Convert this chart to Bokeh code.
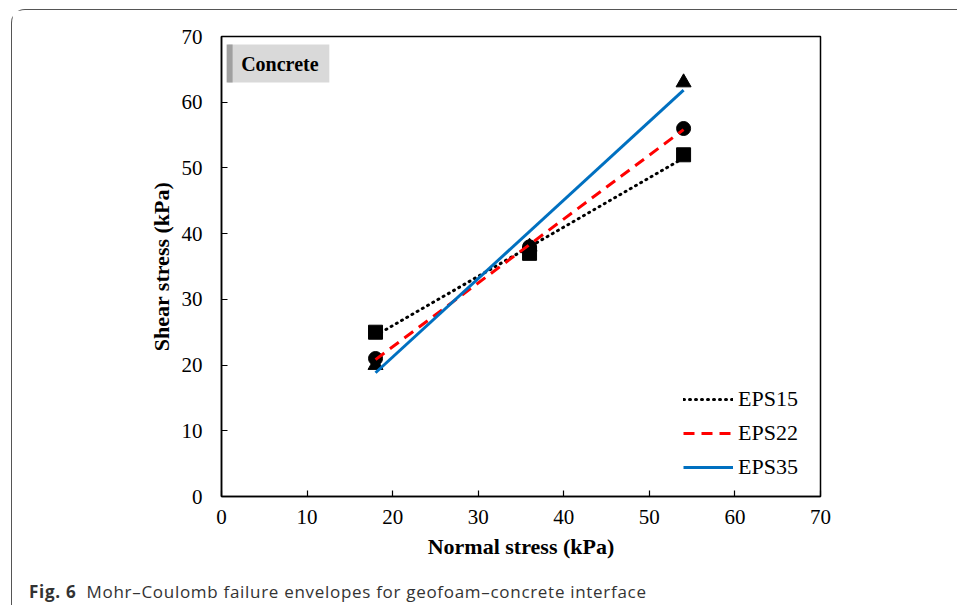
import numpy as np
from bokeh.plotting import figure
from bokeh.layouts import column
from bokeh.models import Range1d, FixedTicker, Legend, LegendItem, Label, BoxAnnotation, Div
from bokeh.embed import file_html
from bokeh.resources import INLINE

# Data
normal_stress = [18, 36, 54]
series_names = ["EPS15", "EPS22", "EPS35"]
eps15 = [25, 37, 52]
eps22 = [21, 38, 56]
eps35 = [20, 38, 63]
ticks = [0, 10, 20, 30, 40, 50, 60, 70]
caption_bold = "Fig. 6"
caption_text = "Mohr\u2013Coulomb failure envelopes for geofoam\u2013concrete interface"

# outer box starts at canvas (11, 9) with a 1px border -> figure at (12, 10)
FW, FH = 945, 565
p = figure(width=FW, height=FH, output_backend="svg", toolbar_location=None,
           x_range=Range1d(0, 70), y_range=Range1d(0, 70),
           min_border_left=209, min_border_right=137, min_border_top=26, min_border_bottom=FH - 486)
p.grid.visible = False
p.outline_line_color = "black"
p.outline_line_width = 1.5
p.background_fill_color = "white"
p.border_fill_color = "white"

for ax in (p.xaxis[0], p.yaxis[0]):
    ax.ticker = FixedTicker(ticks=ticks)
    ax.minor_tick_line_color = None
    ax.major_tick_in = 6
    ax.major_tick_out = 0
    ax.axis_line_color = "black"
    ax.axis_line_width = 1.5
    ax.major_tick_line_color = "black"
    ax.major_tick_line_width = 1.2
    ax.major_label_text_font = "Liberation Serif"
    ax.major_label_text_font_size = "21px"
    ax.major_label_text_color = "black"
    ax.axis_label_text_font = "Liberation Serif"
    ax.axis_label_text_font_size = "22px"
    ax.axis_label_text_font_style = "bold"
    ax.axis_label_text_color = "black"

p.xaxis.axis_label = "Normal stress (kPa)"
p.yaxis.axis_label = "Shear stress (kPa)"
p.xaxis.major_label_standoff = 13
p.yaxis.major_label_standoff = 19
p.xaxis.axis_label_standoff = 7
p.yaxis.axis_label_standoff = 5

# markers
p.scatter(normal_stress, eps35, marker="triangle", size=15, color="black")
p.scatter(normal_stress, eps22, marker="circle", size=14, color="black")
p.scatter(normal_stress, eps15, marker="square", size=14, color="black")

# linear trend lines (least squares fit of each series)
xs = np.array([normal_stress[0], normal_stress[-1]], dtype=float)
styles = [
    dict(line_color="black", line_width=3, line_dash="1 5", line_cap="round"),
    dict(line_color="red", line_width=3, line_dash="11 7"),
    dict(line_color="#0070C0", line_width=3),
]
items = []
for name, ys, st in zip(series_names, [eps15, eps22, eps35], styles):
    k, b = np.polyfit(normal_stress, ys, 1)
    r = p.line(xs, k * xs + b, **st)
    items.append(LegendItem(label=name, renderers=[r]))

legend = Legend(items=items, location=(462, 16), background_fill_alpha=0,
                border_line_color=None, padding=0, margin=0, spacing=8,
                glyph_width=50, glyph_height=20, label_standoff=5,
                label_text_font="Liberation Serif", label_text_font_size="22px",
                label_text_color="black")
p.add_layout(legend)

# "Concrete" box
p.add_layout(BoxAnnotation(left=0.8, right=12.6, bottom=63.0, top=68.8,
                           fill_color="#d9d9d9", fill_alpha=1, line_color=None))
p.add_layout(BoxAnnotation(left=0.6, right=1.3, bottom=63.0, top=68.8,
                           fill_color="#a0a0a0", fill_alpha=1, line_color=None))
p.add_layout(Label(x=2.3, y=65.8, text="Concrete", text_font="Liberation Serif",
                   text_font_size="20px", text_font_style="bold", text_baseline="middle",
                   text_color="black"))

cap = Div(text=f"<b>{caption_bold}</b>&nbsp; {caption_text}", width=FW, height=29,
          styles={"font-family": "'Open Sans', sans-serif",
                  "font-size": "17px", "color": "#333333", "line-height": "24px",
                  "letter-spacing": "0.7px",
                  "padding-left": "12px", "white-space": "nowrap"})

layout = column(p, cap, spacing=0, margin=(9, 0, 0, 11),
                styles={"border-top": "1.2px solid #555555", "border-left": "1.2px solid #555555",
                        "border-top-left-radius": "14px", "background-color": "white"})

open("out.html", "w").write(file_html(layout, INLINE))
